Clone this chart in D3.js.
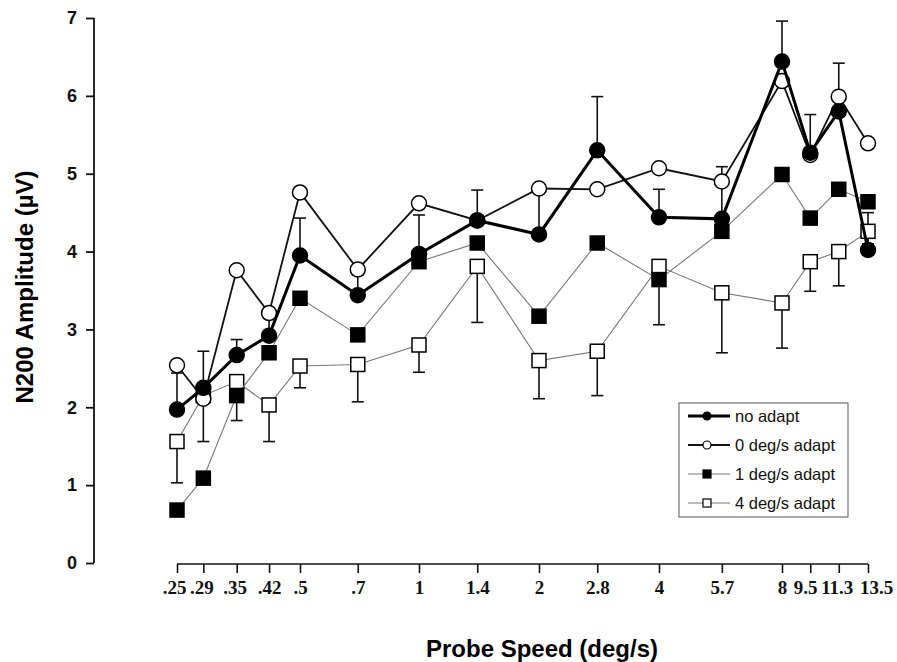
<!DOCTYPE html>
<html>
<head>
<meta charset="utf-8">
<script src="https://cdn.jsdelivr.net/npm/d3@7"></script>
<style>
  body { margin: 0; background: #fff; }
  svg { display: block; }
  .ytick text { font-family: "Liberation Sans", Arial, sans-serif; font-weight: bold; font-size: 18px; }
  .xtick text { font-family: "Liberation Serif", "Times New Roman", serif; font-weight: bold; font-size: 19px; }
  .title { font-family: "Liberation Sans", Arial, sans-serif; font-weight: bold; font-size: 24px; }
  .legend text { font-family: "Liberation Sans", Arial, sans-serif; font-size: 16.5px; }
</style>
</head>
<body>
<div id="chart"></div>
<script>
var speeds = [0.25, 0.29, 0.35, 0.42, 0.5, 0.7, 1, 1.4, 2, 2.8, 4, 5.7, 8, 9.5, 11.3, 13.5];
var speedLabels = ['.25', '.29', '.35', '.42', '.5', '.7', '1', '1.4', '2', '2.8', '4', '5.7', '8', '9.5', '11.3', '13.5'];
var yTicks = [0, 1, 2, 3, 4, 5, 6, 7];

var noAdapt    = [1.97, 2.25, 2.67, 2.92, 3.95, 3.44, 3.97, 4.40, 4.22, 5.30, 4.44, 4.42, 6.44, 5.27, 5.80, 4.02];
var noAdaptErr = [2.44, 2.72, 2.87, 3.15, 4.43, 3.70, 4.47, 4.79, 4.75, 5.99, 4.80, 5.09, 6.96, 5.76, 6.42, 4.50];
var adapt0     = [2.54, 2.11, 3.76, 3.21, 4.76, 3.77, 4.62, 4.40, 4.81, 4.80, 5.07, 4.90, 6.19, 5.24, 5.99, 5.39];
var adapt1     = [0.68, 1.09, 2.15, 2.70, 3.40, 2.93, 3.87, 4.11, 3.17, 4.11, 3.64, 4.26, 4.99, 4.43, 4.80, 4.64];
var adapt4     = [1.56, 2.15, 2.33, 2.03, 2.53, 2.55, 2.80, 3.81, 2.60, 2.72, 3.81, 3.47, 3.34, 3.87, 4.00, 4.26];
var adapt4Err  = [1.03, 1.56, 1.83, 1.56, 2.25, 2.07, 2.45, 3.09, 2.11, 2.15, 3.06, 2.70, 2.76, 3.49, 3.56, 4.10];

var seriesNames = ['no adapt', '0 deg/s adapt', '1 deg/s adapt', '4 deg/s adapt'];

var width = 897, height = 662;
var svg = d3.select('#chart').append('svg')
  .attr('width', width)
  .attr('height', height);

// piecewise log scale, octave anchors follow the printed axis
var x = d3.scaleLog()
  .domain([0.25, 0.5, 1, 2, 4, 8, 13.5])
  .range([177, 300, 419, 539, 659, 782, 868]);
var y = d3.scaleLinear().domain([0, 7]).range([563, 18]);

// axes
var yAxis = d3.axisLeft(y).tickValues(yTicks).tickSize(8).tickPadding(9).tickFormat(d3.format('d'));
var gy = svg.append('g').attr('class', 'ytick').attr('transform', 'translate(94,0)').call(yAxis);
gy.select('.domain').attr('stroke', '#111').attr('stroke-width', 1.8).attr('d', 'M0,' + y(7) + 'V' + y(0));
gy.selectAll('.tick line').attr('stroke', '#111').attr('stroke-width', 1.8);
gy.selectAll('.tick text').attr('fill', '#111');

var xAxis = d3.axisBottom(x).tickValues(speeds).tickSize(9).tickPadding(8)
  .tickFormat(function(d, i) { return speedLabels[i]; });
var gx = svg.append('g').attr('class', 'xtick').attr('transform', 'translate(0,564)').call(xAxis);
gx.select('.domain').attr('stroke', '#111').attr('stroke-width', 1.6).attr('d', 'M' + x(0.25) + ',0H' + x(13.5));
gx.selectAll('.tick line').attr('stroke', '#111').attr('stroke-width', 1.6);
// the crowded labels at the right end are nudged apart as in the print
var labelShift = { '9.5': -5, '11.3': -2, '13.5': 8, '.25': -3, '.29': -2, '.35': -2 };
gx.selectAll('.tick text').attr('fill', '#111')
  .attr('dx', function(d, i) { return labelShift[speedLabels[i]] || 0; });

svg.append('text').attr('class', 'title')
  .attr('transform', 'translate(33,287) rotate(-90)')
  .attr('text-anchor', 'middle')
  .text('N200 Amplitude (\u00b5V)');

svg.append('text').attr('class', 'title')
  .attr('x', 542).attr('y', 657)
  .attr('text-anchor', 'middle')
  .text('Probe Speed (deg/s)');

function pts(vals) {
  return vals.map(function(v, i) { return { s: speeds[i], v: v }; });
}

var line = d3.line()
  .x(function(d) { return x(d.s); })
  .y(function(d) { return y(d.v); });

var styles = [
  { data: noAdapt,  stroke: '#000', sw: 3,   marker: 'circle', fill: '#000' },
  { data: adapt0,   stroke: '#111', sw: 1.8, marker: 'circle', fill: '#fff' },
  { data: adapt1,   stroke: '#777', sw: 1.1, marker: 'square', fill: '#000' },
  { data: adapt4,   stroke: '#777', sw: 1.1, marker: 'square', fill: '#fff' }
];

// error bars
var errLayer = svg.append('g');
function drawErr(vals, errs) {
  var d = pts(vals).map(function(p, i) { return { s: p.s, v: p.v, e: errs[i] }; });
  errLayer.selectAll(null).data(d).enter().append('line')
    .attr('x1', function(d) { return x(d.s); })
    .attr('x2', function(d) { return x(d.s); })
    .attr('y1', function(d) { return y(d.v); })
    .attr('y2', function(d) { return y(d.e); })
    .attr('stroke', '#111').attr('stroke-width', 1.6);
  errLayer.selectAll(null).data(d).enter().append('line')
    .attr('x1', function(d) { return x(d.s) - 6; })
    .attr('x2', function(d) { return x(d.s) + 6; })
    .attr('y1', function(d) { return y(d.e); })
    .attr('y2', function(d) { return y(d.e); })
    .attr('stroke', '#111').attr('stroke-width', 1.6);
}
drawErr(noAdapt, noAdaptErr);
drawErr(adapt4, adapt4Err);

function drawMarkers(g, data, st, size) {
  if (st.marker === 'circle') {
    g.selectAll(null).data(data).enter().append('circle')
      .attr('cx', function(d) { return x(d.s); })
      .attr('cy', function(d) { return y(d.v); })
      .attr('r', size)
      .attr('fill', st.fill).attr('stroke', '#000').attr('stroke-width', 1.5);
  } else {
    g.selectAll(null).data(data).enter().append('rect')
      .attr('x', function(d) { return x(d.s) - size; })
      .attr('y', function(d) { return y(d.v) - size; })
      .attr('width', size * 2).attr('height', size * 2)
      .attr('fill', st.fill).attr('stroke', '#000').attr('stroke-width', 1.5);
  }
}

// draw in order: 4 deg/s, 1 deg/s, 0 deg/s, no adapt
[3, 2, 1, 0].forEach(function(k) {
  var st = styles[k];
  var g = svg.append('g');
  var data = pts(st.data);
  g.append('path').datum(data)
    .attr('d', line)
    .attr('fill', 'none')
    .attr('stroke', st.stroke)
    .attr('stroke-width', st.sw);
  drawMarkers(g, data, st, st.marker === 'circle' ? 7.5 : 7);
});

// legend
var leg = svg.append('g').attr('class', 'legend').attr('transform', 'translate(679,403)');
leg.append('rect').attr('width', 169).attr('height', 114)
  .attr('fill', '#fff').attr('stroke', '#555').attr('stroke-width', 1);
seriesNames.forEach(function(name, i) {
  var st = styles[i];
  var yy = 13 + i * 29;
  var g = leg.append('g');
  g.append('line').attr('x1', 9).attr('x2', 51).attr('y1', yy).attr('y2', yy)
    .attr('stroke', st.stroke).attr('stroke-width', st.sw);
  var sz = 4;
  if (st.marker === 'circle') {
    g.append('circle').attr('cx', 28).attr('cy', yy).attr('r', sz)
      .attr('fill', st.fill).attr('stroke', '#000').attr('stroke-width', 1.2);
  } else {
    g.append('rect').attr('x', 28 - sz).attr('y', yy - sz).attr('width', sz * 2).attr('height', sz * 2)
      .attr('fill', st.fill).attr('stroke', '#000').attr('stroke-width', 1.2);
  }
  g.append('text').attr('x', 56).attr('y', yy + 6).attr('fill', '#111').text(name);
});
</script>
</body>
</html>
